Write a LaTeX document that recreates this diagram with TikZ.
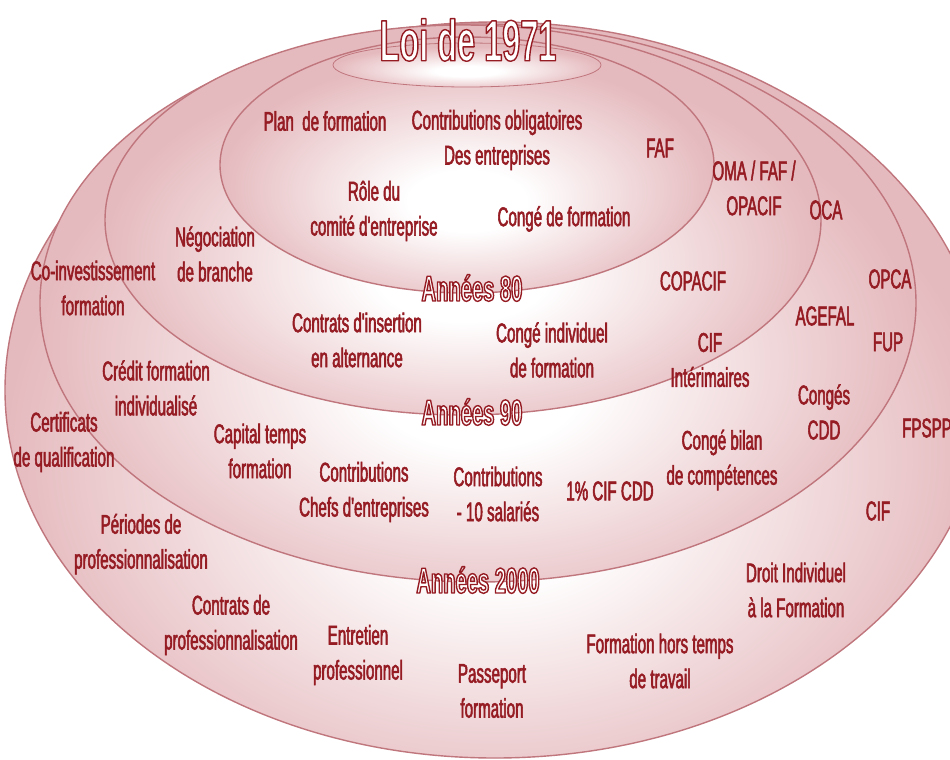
\documentclass[tikz,border=0pt]{standalone}
\usepackage{fontspec}
\setmainfont{Liberation Sans}[FakeStretch=0.56]
\newfontfamily\itemfont{Liberation Sans}[FakeStretch=0.56, FakeBold=2]
\definecolor{wine}{RGB}{150,28,36}
\definecolor{rosefill}{RGB}{229,186,190}
\definecolor{rimline}{RGB}{192,118,125}
\pgfdeclareradialshading{ringshade}{\pgfpoint{0bp}{-8bp}}{color(0bp)=(white); color(6bp)=(white); color(25bp)=(rosefill); color(50bp)=(rosefill)}
% white letters with a thin wine edge
\newcommand{\erafont}[1]{\special{pdf:literal direct 0.59 0.11 0.14 RG 1.4 w 1 j 2 Tr}#1\special{pdf:literal direct 0 Tr}}

\begin{document}
\begin{tikzpicture}[x=1pt, y=-1pt,
  ring/.style={shading=ringshade, draw=rimline, line width=1.4pt},
  item/.style={text=wine, font=\itemfont\fontsize{27}{35}\selectfont, align=center, inner sep=0pt},
  era/.style={text=white, font=\bfseries\fontsize{36}{40}\selectfont, inner sep=0pt}]
  \useasboundingbox (0,0) rectangle (950,760);
  \fill[white] (0,0) rectangle (950,760);
  \clip (0,0) rectangle (950,760);

  % nested rings, outer first
  \path[ring] (495,390) ellipse [x radius=490pt, y radius=368pt];
  \path[ring] (478,303) ellipse [x radius=438pt, y radius=279pt];
  \path[ring] (463,220) ellipse [x radius=358pt, y radius=195pt];
  \path[ring] (467,165) ellipse [x radius=247pt, y radius=128pt];
  \path[ring, line width=0.8pt] (467,65) ellipse [x radius=134pt, y radius=22pt];

  % era titles
  \node[era, font=\bfseries\fontsize{58}{60}\selectfont] (loi) at (468,40) {\erafont{Loi de 1971}};
  \node[era] (a80) at (472,288) {\erafont{Années 80}};
  \node[era] (a90) at (472,412) {\erafont{Années 90}};
  \node[era] (a2000) at (478,580) {\erafont{Années 2000}};

  % 1971
  \node[item] (plan) at (325,121) {Plan\ \ de formation};
  \node[item] (contrib) at (497,140) {Contributions obligatoires\\Des entreprises};
  \node[item] (faf) at (660,148) {FAF};
  \node[item] (role) at (374,211) {Rôle du\\comité d'entreprise};
  \node[item] (conge) at (564,219) {Congé de formation};

  % 80
  \node[item] (oma) at (754,188) {OMA / FAF /\\OPACIF};
  \node[item] (nego) at (215,254) {Négociation\\de branche};
  \node[item] (copacif) at (693,281) {COPACIF};
  \node[item] (insertion) at (357,340) {Contrats d'insertion\\en alternance};
  \node[item] (cif) at (552,350) {Congé individuel\\de formation};
  \node[item] (interim) at (710,360) {CIF\\Intérimaires};

  % 90
  \node[item] (oca) at (826,210) {OCA};
  \node[item] (coinv) at (93,288) {Co-investissement\\formation};
  \node[item] (agefal) at (825,316) {AGEFAL};
  \node[item] (credit) at (156,388) {Crédit formation\\individualisé};
  \node[item] (conges) at (824,412) {Congés\\CDD};
  \node[item] (capital) at (260,451) {Capital temps\\formation};
  \node[item] (bilan) at (722,460) {Congé bilan\\de compétences};
  \node[item] (chefs) at (364,492) {Contributions\\Chefs d'entreprises};
  \node[item] (dix) at (498,494) {Contributions\\- 10 salariés};
  \node[item] (cifcdd) at (610,491) {1\% CIF CDD};

  % 2000
  \node[item] (opca) at (890,279) {OPCA};
  \node[item] (fup) at (888,342) {FUP};
  \node[item] (fpspp) at (927,428) {FPSPP};
  \node[item] (cert) at (64,442) {Certificats\\de qualification};
  \node[item] (cif2) at (878,511) {CIF};
  \node[item] (periodes) at (141,544) {Périodes de\\professionnalisation};
  \node[item] (dif) at (796,590) {Droit Individuel\\à la Formation};
  \node[item] (contrats) at (231,625) {Contrats de\\professionnalisation};
  \node[item] (entretien) at (358,655) {Entretien\\professionnel};
  \node[item] (hors) at (660,661) {Formation hors temps\\de travail};
  \node[item] (passeport) at (492,691) {Passeport\\formation};
\end{tikzpicture}
\end{document}
